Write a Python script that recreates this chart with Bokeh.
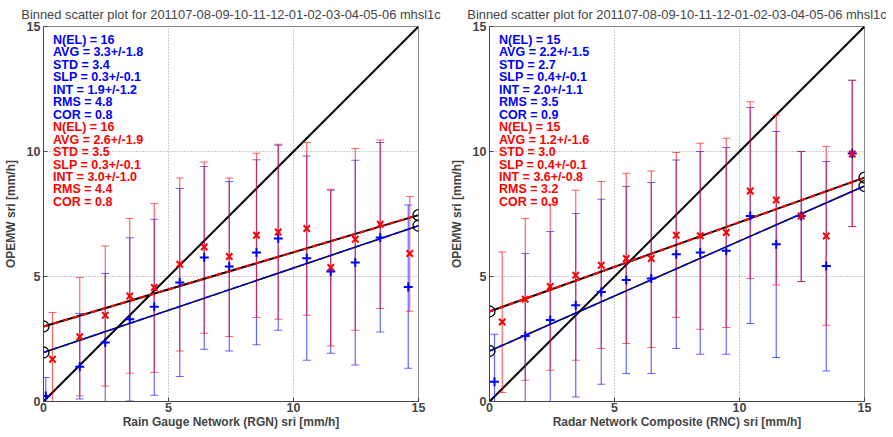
import numpy as np
from bokeh.plotting import figure
from bokeh.layouts import row
from bokeh.models import ColumnDataSource, Label, FixedTicker
from bokeh.embed import file_html
from bokeh.resources import INLINE

# ---------------- data ----------------
axis_max = 15
ticks = [0, 5, 10, 15]
title_text = "Binned scatter plot for 201107-08-09-10-11-12-01-02-03-04-05-06 mhsl1c"
y_label = "OPEMW sri [mm/h]"
x_label_left = "Rain Gauge Network (RGN) sri [mm/h]"
x_label_right = "Radar Network Composite (RNC) sri [mm/h]"

# left panel (RGN) - blue series
bx_l = [0.09, 1.45, 2.47, 3.45, 4.43, 5.45, 6.43, 7.43, 8.52, 9.39, 10.53, 11.49, 12.47, 13.47, 14.59]
by_l = [0.22, 1.39, 2.36, 3.29, 3.79, 4.76, 5.76, 5.40, 5.96, 6.52, 5.73, 5.20, 5.56, 6.56, 4.58]
bhi_l = [0.96, 3.52, 5.12, 6.55, 7.29, 8.52, 9.40, 8.80, 9.67, 10.25, 9.82, 8.45, 9.65, 10.36, 7.86]
blo_l = [-0.8, 0.10, -0.4, 0.02, 0.25, 1.00, 2.09, 2.02, 2.27, 2.85, 1.65, 1.93, 1.46, 2.78, 1.33]
# left panel - red series
rx_l = [0.36, 1.45, 2.47, 3.45, 4.43, 5.45, 6.43, 7.43, 8.52, 9.39, 10.53, 11.49, 12.47, 13.47, 14.65]
ry_l = [1.69, 2.59, 3.45, 4.22, 4.56, 5.49, 6.18, 5.80, 6.65, 6.78, 6.92, 5.36, 6.49, 7.09, 5.92]
rhi_l = [3.56, 4.96, 6.22, 7.32, 7.92, 8.94, 9.58, 8.94, 9.93, 10.29, 10.36, 8.49, 10.12, 10.46, 8.20]
rlo_l = [-0.5, 0.22, 0.62, 1.13, 1.16, 2.02, 2.73, 2.60, 3.36, 3.29, 3.45, 2.22, 2.85, 3.72, 3.61]
# fits (intercept, slope)
bfit_l = (1.96, 0.338)
rfit_l = (3.00, 0.297)
stats_blue_l = ["N(EL) = 16", "AVG = 3.3+/-1.8", "STD = 3.4", "SLP = 0.3+/-0.1",
                "INT = 1.9+/-1.2", "RMS = 4.8", "COR = 0.8"]
stats_red_l = ["N(EL) = 16", "AVG = 2.6+/-1.9", "STD = 3.5", "SLP = 0.3+/-0.1",
               "INT = 3.0+/-1.0", "RMS = 4.4", "COR = 0.8"]

# right panel (RNC) - blue series
bx_r = [0.20, 1.43, 2.43, 3.45, 4.47, 5.47, 6.47, 7.47, 8.43, 9.47, 10.43, 11.47, 12.47, 13.47, 14.51]
by_r = [0.79, 2.62, 3.26, 3.85, 4.38, 4.86, 4.92, 5.89, 5.96, 6.03, 7.42, 6.29, 7.42, 5.42, 9.92]
bhi_r = [2.69, 5.92, 6.80, 7.52, 8.09, 8.60, 8.76, 9.66, 10.00, 10.16, 11.76, 10.80, 10.00, 9.60, 12.85]
blo_r = [-0.5, -0.5, -0.5, 0.18, 0.69, 1.12, 1.12, 2.12, 1.89, 1.89, 3.12, 1.76, 4.80, 1.22, 7.00]
# right panel - red series
rx_r = [0.51, 1.43, 2.43, 3.45, 4.47, 5.47, 6.47, 7.47, 8.43, 9.47, 10.43, 11.47, 12.47, 13.47, 14.51]
ry_r = [3.18, 4.09, 4.60, 5.05, 5.45, 5.72, 5.72, 6.65, 6.63, 6.76, 8.42, 8.06, 7.42, 6.62, 9.90]
rhi_r = [5.98, 7.32, 7.90, 8.45, 8.80, 9.13, 9.22, 9.96, 10.33, 10.53, 11.99, 11.46, 10.00, 10.20, 12.85]
rlo_r = [0.36, 0.85, 1.25, 1.65, 2.12, 2.32, 2.16, 3.36, 2.89, 2.96, 4.92, 4.66, 4.80, 3.05, 7.00]
bfit_r = (2.02, 0.440)
rfit_r = (3.60, 0.357)
stats_blue_r = ["N(EL) = 15", "AVG = 2.2+/-1.5", "STD = 2.7", "SLP = 0.4+/-0.1",
                "INT = 2.0+/-1.1", "RMS = 3.5", "COR = 0.9"]
stats_red_r = ["N(EL) = 15", "AVG = 1.2+/-1.6", "STD = 3.0", "SLP = 0.4+/-0.1",
               "INT = 3.6+/-0.8", "RMS = 3.2", "COR = 0.9"]

FONT = "Liberation Sans"
BLUE = "#0000ff"
RED = "#ff0000"


def make_panel(xlab, bx, by, bhi, blo, rx, ry, rhi, rlo, bfit, rfit, sb, sr, left_border, right_border):
    p = figure(frame_width=375, frame_height=375, x_range=(0, axis_max), y_range=(0, axis_max),
               output_backend="svg", toolbar_location=None,
               min_border_left=left_border, min_border_right=right_border,
               min_border_top=26, min_border_bottom=0)
    p.title.text = title_text
    p.title.align = "center"
    p.title.text_font = FONT
    p.title.text_font_size = "12.9px"
    p.title.text_font_style = "normal"
    p.title.offset = 0
    p.title.standoff = 9

    for ax in (p.xaxis[0], p.yaxis[0]):
        ax.ticker = FixedTicker(ticks=ticks)
        ax.major_tick_in = 4
        ax.major_tick_out = 0
        ax.minor_tick_line_color = None
        ax.major_label_text_font = FONT
        ax.major_label_text_font_size = "12.5px"
        ax.major_label_text_font_style = "bold"
        ax.axis_label_text_font = FONT
        ax.axis_label_text_font_size = "12px"
        ax.axis_label_text_font_style = "bold"
        ax.axis_line_color = "#444444"
        ax.major_tick_line_color = "#444444"
    p.xaxis.axis_label = xlab
    p.yaxis.axis_label = y_label
    p.xaxis.major_label_standoff = 1
    p.xaxis.axis_label_standoff = 0
    p.yaxis.major_label_standoff = 3
    p.yaxis.axis_label_standoff = 6
    p.outline_line_color = "#888888"
    p.grid.grid_line_color = "#999999"
    p.grid.grid_line_dash = "1 2"
    p.grid.grid_line_width = 1

    # 1:1 line
    p.line([0, axis_max], [0, axis_max], line_color="black", line_width=2)

    # error bars
    for xs, hi, lo, col in ((bx, bhi, blo, BLUE), (rx, rhi, rlo, RED)):
        src = ColumnDataSource(dict(x=xs, hi=hi, lo=lo))
        p.segment(x0="x", y0="lo", x1="x", y1="hi", source=src, line_color=col, line_alpha=0.6, line_width=1.2)
        p.scatter(x="x", y="hi", source=src, marker="dash", size=8, line_color=col, line_alpha=0.6, line_width=1.2)
        p.scatter(x="x", y="lo", source=src, marker="dash", size=8, line_color=col, line_alpha=0.6, line_width=1.2)

    # fit lines
    fx = np.array([0, axis_max], dtype=float)
    p.line(fx, bfit[0] + bfit[1] * fx, line_color="black", line_width=1.5)
    p.line(fx, bfit[0] + bfit[1] * fx, line_color=BLUE, line_width=1.5, line_dash="6 4")
    p.line(fx, rfit[0] + rfit[1] * fx, line_color="black", line_width=2)
    p.line(fx, rfit[0] + rfit[1] * fx, line_color=RED, line_width=2, line_dash="6 4")
    ends_y = [bfit[0], rfit[0], bfit[0] + bfit[1] * axis_max, rfit[0] + rfit[1] * axis_max]
    ends_x = [0, 0, axis_max, axis_max]
    p.scatter(ends_x, ends_y, marker="circle", size=11, fill_color=None, line_color="black", line_width=1.3)

    # markers
    p.scatter(bx, by, marker="cross", size=9, line_color=BLUE, line_width=2)
    p.scatter(rx, ry, marker="x", size=9, line_color=RED, line_width=2)

    # stats text
    y0 = 14.46
    dy = 0.498
    for i, t in enumerate(sb + sr):
        p.add_layout(Label(x=0.38, y=y0 - i * dy, text=t, text_font=FONT, text_font_size="12.5px",
                           text_font_style="bold", text_baseline="middle", text_align="left",
                           text_color=BLUE if i < len(sb) else RED))
    return p


p1 = make_panel(x_label_left, bx_l, by_l, bhi_l, blo_l, rx_l, ry_l, rhi_l, rlo_l, bfit_l, rfit_l,
                stats_blue_l, stats_red_l, 42, 28)
p2 = make_panel(x_label_right, bx_r, by_r, bhi_r, blo_r, rx_r, ry_r, rhi_r, rlo_r, bfit_r, rfit_r,
                stats_blue_r, stats_red_r, 38, 22)
layout = row(p1, p2)
open("out.html", "w").write(file_html(layout, INLINE))
